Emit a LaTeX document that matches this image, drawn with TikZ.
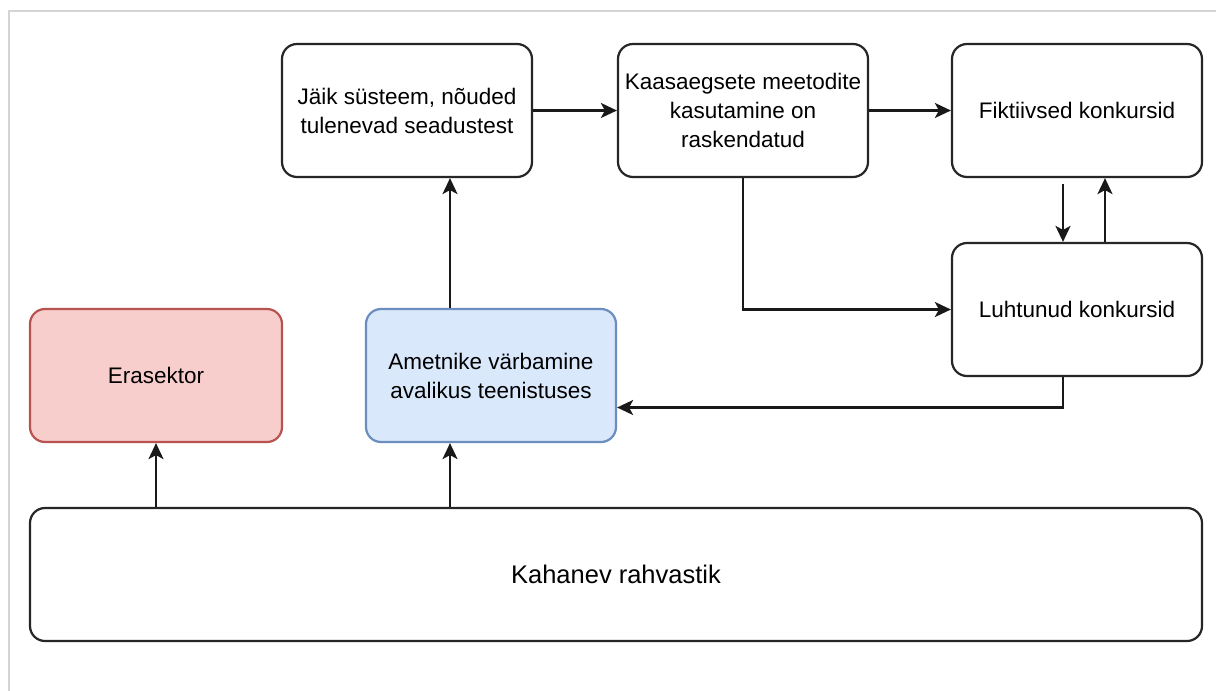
\documentclass[tikz,border=0pt]{standalone}
\usepackage{fontspec}
\setmainfont{Liberation Sans}
\usetikzlibrary{arrows.meta}
\definecolor{redfill}{HTML}{F8CECC}
\definecolor{redline}{HTML}{B85450}
\definecolor{bluefill}{HTML}{DAE8FC}
\definecolor{blueline}{HTML}{6C8EBF}
\definecolor{framegray}{HTML}{D4D4D4}
\tikzset{
  box/.style={draw=black!85, line width=2.2pt, rounded corners=15pt, fill=white,
    minimum width=250pt, minimum height=133pt, align=center, inner sep=0pt,
    font=\fontsize{22.5}{29}\selectfont},
  arr/.style={line width=2.2pt, draw=black!90, -{Stealth[length=16pt,width=15pt,inset=4pt]}},
}
\begin{document}
\begin{tikzpicture}[x=1pt,y=-1pt]
\useasboundingbox (0,0) rectangle (1216,691);
\fill[white] (0,0) rectangle (1216,691);
\draw[framegray, line width=2pt] (9,691) -- (9,11) -- (1216,11);

\node[box] (jaik) at (407,110.5) {Jäik süsteem, nõuded\\tulenevad seadustest};
\node[box] (kaas) at (743,110.5) {Kaasaegsete meetodite\\kasutamine on\\raskendatud};
\node[box] (fikt) at (1077,110.5) {Fiktiivsed konkursid};
\node[box] (luht) at (1077,309.5) {Luhtunud konkursid};
\node[box, fill=redfill, draw=redline, minimum width=252pt] (era) at (156,375.5) {Erasektor};
\node[box, fill=bluefill, draw=blueline] (ame) at (491,375.5) {Ametnike värbamine\\avalikus teenistuses};
\node[box, minimum width=1172pt, font=\fontsize{25.5}{31}\selectfont] (kah) at (616,574.5) {Kahanev rahvastik};

\coordinate (c1) at (450,0);
\coordinate (c2) at (1063,0);
\coordinate (c3) at (1105,0);

\draw[arr] (kah.north -| era.south) -- (era.south);
\draw[arr] (kah.north -| c1) -- (ame.south -| c1);
\draw[arr] (ame.north -| c1) -- (jaik.south -| c1);
\draw[arr] (jaik.east) -- (kaas.west);
\draw[arr] (kaas.east) -- (fikt.west);
\draw[arr] (kaas.south) |- (luht.west);
\draw[arr] ([yshift=-6pt]fikt.south -| c2) -- (luht.north -| c2);
\draw[arr] (luht.north -| c3) -- (fikt.south -| c3);
\coordinate (c4) at ([yshift=-32pt]ame.east);
\draw[arr] (luht.south -| c2) |- (c4);
\end{tikzpicture}
\end{document}
